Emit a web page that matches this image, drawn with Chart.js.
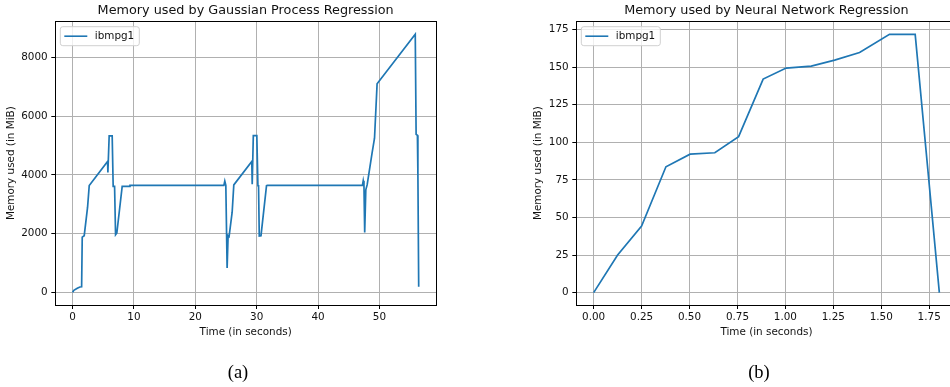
<!DOCTYPE html>
<html><head><meta charset="utf-8">
<script src="https://cdn.jsdelivr.net/npm/chart.js@4.4.1/dist/chart.umd.min.js"></script>
<style>
html,body{margin:0;padding:0;width:950px;height:387px;overflow:hidden;background:#fff;}
#wa{position:absolute;left:0;top:0;width:440px;height:387px;}
#wb{position:absolute;left:520px;top:0;width:440px;height:387px;}
.cap{position:absolute;top:362px;line-height:20px;font-family:"Liberation Serif",serif;font-size:18.5px;color:#000;transform:translateX(-50%);white-space:nowrap;}
</style></head><body>
<div id="wa"><canvas id="ca" width="440" height="387"></canvas></div>
<div id="wb"><canvas id="cb" width="440" height="387"></canvas></div>
<div class="cap" style="left:238px">(a)</div>
<div class="cap" style="left:759px">(b)</div>
<script>
const seriesName = 'ibmpg1';
const titleA = 'Memory used by Gaussian Process Regression';
const titleB = 'Memory used by Neural Network Regression';
const xTitle = 'Time (in seconds)';
const yTitle = 'Memory used (in MiB)';

const gpTime = [0, 0.2, 0.76, 1.19, 1.47, 1.57, 1.89, 2.44, 2.71, 5.70, 5.75, 5.96, 6.45, 6.61, 6.84, 7.0, 7.21, 8.08, 9.25, 9.35,
  24.65, 24.8, 24.97, 25.18, 25.34, 25.5, 26.0, 26.27, 29.2, 29.27, 29.45, 30.02, 30.2, 30.3, 30.42, 30.7, 31.6, 31.76,
  47.23, 47.36, 47.48, 47.6, 47.78, 48.0, 48.8, 49.2, 49.62, 55.84, 55.98, 56.19, 56.27, 56.4];
const gpMem = [0, 70, 140, 184, 190, 1880, 1930, 2900, 3640, 4460, 4080, 5330, 5330, 3610, 3610, 1960, 2020, 3610, 3610, 3640,
  3640, 3790, 3640, 830, 1930, 1900, 2730, 3660, 4460, 3680, 5340, 5340, 3630, 3630, 1920, 1930, 3630, 3640,
  3640, 3800, 3640, 2040, 3490, 3660, 4740, 5250, 7100, 8790, 5380, 5350, 4050, 190];

const nnTime = [0, 0.125, 0.25, 0.377, 0.503, 0.632, 0.756, 0.884, 1.004, 1.135, 1.257, 1.387, 1.543, 1.677, 1.803];
const nnMem = [0, 25.0, 44.3, 83.7, 92.1, 93.0, 103.7, 142.0, 149.3, 150.6, 154.6, 159.7, 171.7, 171.7, 0];

const gpXTicks = [0, 10, 20, 30, 40, 50];
const gpXLabels = ['0', '10', '20', '30', '40', '50'];
const gpYTicks = [0, 2000, 4000, 6000, 8000];
const gpYLabels = ['0', '2000', '4000', '6000', '8000'];
const nnXTicks = [0, 0.25, 0.5, 0.75, 1.0, 1.25, 1.5, 1.75];
const nnXLabels = ['0.00', '0.25', '0.50', '0.75', '1.00', '1.25', '1.50', '1.75'];
const nnYTicks = [0, 25, 50, 75, 100, 125, 150, 175];
const nnYLabels = ['0', '25', '50', '75', '100', '125', '150', '175'];

const FONT = 'DejaVu Sans';
const TICK_SIZE = 10.4;
Chart.defaults.color = '#111';
Chart.defaults.font.family = FONT;

const framePlugin = {
  id: 'frame',
  afterDatasetsDraw(chart) {
    const a = chart.chartArea, ctx = chart.ctx;
    ctx.save();
    ctx.strokeStyle = '#000';
    ctx.lineWidth = 1;
    ctx.strokeRect(Math.round(a.left) + 0.5, Math.round(a.top) + 0.5, Math.round(a.right - a.left), Math.round(a.bottom - a.top));
    // legend box
    const label = chart.data.datasets[0].label;
    const color = chart.data.datasets[0].borderColor;
    const x = a.left + 5, y = a.top + 5.4, w = 79, h = 19, r = 2.5;
    ctx.beginPath();
    ctx.moveTo(x + r, y);
    ctx.arcTo(x + w, y, x + w, y + h, r);
    ctx.arcTo(x + w, y + h, x, y + h, r);
    ctx.arcTo(x, y + h, x, y, r);
    ctx.arcTo(x, y, x + w, y, r);
    ctx.closePath();
    ctx.fillStyle = 'rgba(255,255,255,0.8)';
    ctx.fill();
    ctx.strokeStyle = '#d0d0d0';
    ctx.lineWidth = 1;
    ctx.stroke();
    ctx.beginPath();
    ctx.moveTo(x + 4, y + h / 2);
    ctx.lineTo(x + 27, y + h / 2);
    ctx.strokeStyle = color;
    ctx.lineWidth = 1.6;
    ctx.stroke();
    ctx.fillStyle = '#111';
    ctx.font = TICK_SIZE + 'px "' + FONT + '"';
    ctx.textBaseline = 'middle';
    ctx.textAlign = 'left';
    ctx.fillText(label, x + 34.5, y + h / 2 + 0.5);
    ctx.restore();
  }
};

function makeChart(id, title, xs, ys, xTicks, xLabels, yTicks, yLabels, xMin, xMax, yMin, yMax, yAxisW, yTitlePad, padRight) {
  const pts = xs.map((x, i) => ({x: x, y: ys[i]}));
  return new Chart(document.getElementById(id), {
    type: 'line',
    data: {datasets: [{label: seriesName, data: pts, borderColor: '#1f77b4', borderWidth: 1.7, pointRadius: 0, tension: 0, fill: false}]},
    options: {
      responsive: false, animation: false, devicePixelRatio: 1,
      layout: {padding: {left: 0, right: padRight, top: 0, bottom: 48.65}},
      plugins: {
        legend: {display: false},
        tooltip: {enabled: false},
        title: {display: true, text: title, fullSize: false, color: '#111',
          font: {family: FONT, size: 12.8, weight: 'normal', lineHeight: 1.2},
          padding: {top: 3.3, bottom: 2.64}}
      },
      scales: {
        x: {
          type: 'linear', min: xMin, max: xMax,
          afterBuildTicks: s => { s.ticks = xTicks.map(v => ({value: v})); },
          afterFit: s => { s.height = 33.35; },
          ticks: {autoSkip: false, maxRotation: 0, padding: 2, color: '#111',
            font: {family: FONT, size: TICK_SIZE},
            callback: (v) => { const i = xTicks.indexOf(v); return i >= 0 ? xLabels[i] : ''; }},
          grid: {color: '#b0b0b0', lineWidth: 1, drawTicks: true, tickLength: 4, tickColor: '#000', tickWidth: 1},
          border: {display: false},
          title: {display: true, text: xTitle, color: '#111', font: {family: FONT, size: TICK_SIZE}, padding: {top: 0, bottom: 0}}
        },
        y: {
          type: 'linear', min: yMin, max: yMax,
          afterBuildTicks: s => { s.ticks = yTicks.map(v => ({value: v})); },
          afterFit: s => { s.width = yAxisW; },
          ticks: {autoSkip: false, padding: 3.6, color: '#111',
            font: {family: FONT, size: TICK_SIZE},
            callback: (v) => { const i = yTicks.indexOf(v); return i >= 0 ? yLabels[i] : ''; }},
          grid: {color: '#b0b0b0', lineWidth: 1, drawTicks: true, tickLength: 4, tickColor: '#000', tickWidth: 1},
          border: {display: false},
          title: {display: true, text: yTitle, color: '#111', font: {family: FONT, size: TICK_SIZE}, padding: {top: yTitlePad, bottom: 0}}
        }
      }
    },
    plugins: [framePlugin]
  });
}

makeChart('ca', titleA, gpTime, gpMem, gpXTicks, gpXLabels, gpYTicks, gpYLabels, -2.82, 59.22, -430, 9230, 55.3, 4.76, 4);
makeChart('cb', titleB, nnTime, nnMem, nnXTicks, nnXLabels, nnYTicks, nnYLabels, -0.0905, 1.893, -8.2, 180.4, 56.3, 12.06, 3.4);
</script>
</body></html>
